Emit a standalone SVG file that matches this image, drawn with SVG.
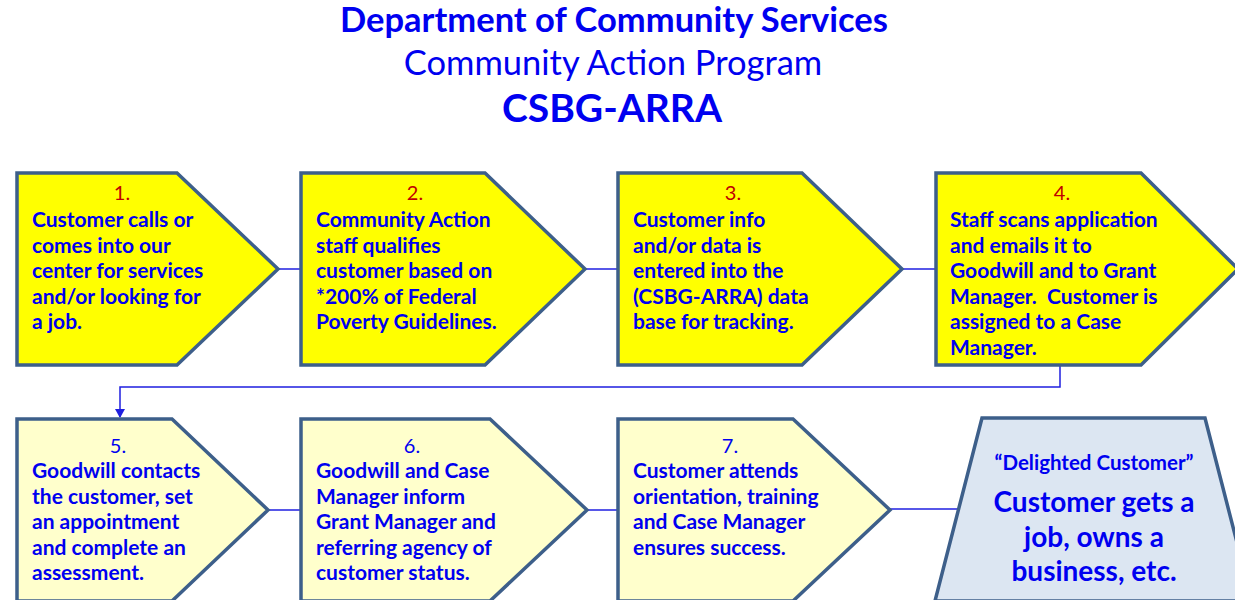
<svg xmlns="http://www.w3.org/2000/svg" width="1235" height="600" viewBox="0 0 1235 600">
<style>
.t{font-family:Lato,"Liberation Sans",sans-serif;fill:#0000F0}
.b{font-weight:bold;font-size:21px}
.n{font-size:20px;text-anchor:middle}
.r{fill:#C00000}
.s1{fill:#FFFF00;stroke:#3D5F8A;stroke-width:3.5;stroke-linejoin:miter}
.s2{fill:#FFFFCC;stroke:#3D5F8A;stroke-width:3.5}
.s3{fill:#DCE6F2;stroke:#3D5F8A;stroke-width:3.5}
.c{stroke:#1F1FE0;stroke-width:1.5;fill:none}
</style>
<defs>
<marker id="ah" markerWidth="10" markerHeight="10" refX="8" refY="5" orient="auto" markerUnits="userSpaceOnUse">
<path d="M0,0 L9,5 L0,10 Z" fill="#1F1FE0"/>
</marker>
</defs>
<rect width="1235" height="600" fill="#FFFFFF"/>
<g id="title" class="t" text-anchor="middle">
<text x="614" y="32" font-size="34.5" font-weight="bold">Department of Community Services</text>
<text x="613" y="75" font-size="34.5">Community Action Program</text>
<text x="612" y="122" font-size="39" font-weight="bold">CSBG-ARRA</text>
</g>
<g id="connectors">
<line class="c" x1="278" y1="269" x2="301" y2="269"/>
<line class="c" x1="585" y1="269" x2="618" y2="269"/>
<line class="c" x1="902" y1="269" x2="936" y2="269"/>
<polyline class="c" points="1060,365 1060,387 120,387 120,417" marker-end="url(#ah)"/>
<line class="c" x1="268" y1="510" x2="301" y2="510"/>
<line class="c" x1="587" y1="510" x2="618" y2="510"/>
<line class="c" x1="890" y1="509" x2="958" y2="509"/>
</g>
<g id="node1">
<polygon class="s1" points="17,173 177,173 278,269 177,365 17,365"/>
<text class="t n r" x="122" y="200">1.</text>
<text class="t b"><tspan x="32" y="227">Customer calls or</tspan><tspan x="32" y="252.5">comes into our</tspan><tspan x="32" y="278">center for services</tspan><tspan x="32" y="303.5">and/or looking for</tspan><tspan x="32" y="329">a job.</tspan></text>
</g>
<g id="node2">
<polygon class="s1" points="301,173 485,173 585,269 485,365 301,365"/>
<text class="t n r" x="415" y="200">2.</text>
<text class="t b"><tspan x="316" y="227">Community Action</tspan><tspan x="316" y="252.5">staff qualifies</tspan><tspan x="316" y="278">customer based on</tspan><tspan x="316" y="303.5">*200% of Federal</tspan><tspan x="316" y="329">Poverty Guidelines.</tspan></text>
</g>
<g id="node3">
<polygon class="s1" points="618,173 802,173 902,269 802,365 618,365"/>
<text class="t n r" x="733" y="200">3.</text>
<text class="t b"><tspan x="633" y="227">Customer info</tspan><tspan x="633" y="252.5">and/or data is</tspan><tspan x="633" y="278">entered into the</tspan><tspan x="633" y="303.5">(CSBG-ARRA) data</tspan><tspan x="633" y="329">base for tracking.</tspan></text>
</g>
<g id="node4">
<polygon class="s1" points="936,173 1141,173 1238,269 1141,365 936,365"/>
<text class="t n r" x="1062" y="200">4.</text>
<text class="t b"><tspan x="950" y="227">Staff scans application</tspan><tspan x="950" y="252.5">and emails it to</tspan><tspan x="950" y="278">Goodwill and to Grant</tspan><tspan x="950" y="303.5" xml:space="preserve">Manager.  Customer is</tspan><tspan x="950" y="329">assigned to a Case</tspan><tspan x="950" y="354.5">Manager.</tspan></text>
</g>
<g id="node5">
<polygon class="s2" points="17,419 172,419 268,510 172,601 17,601"/>
<text class="t n" x="118" y="453">5.</text>
<text class="t b"><tspan x="32" y="478">Goodwill contacts</tspan><tspan x="32" y="503.5">the customer, set</tspan><tspan x="32" y="529">an appointment</tspan><tspan x="32" y="554.5">and complete an</tspan><tspan x="32" y="580">assessment.</tspan></text>
</g>
<g id="node6">
<polygon class="s2" points="301,419 490,419 587,510 490,601 301,601"/>
<text class="t n" x="412" y="453">6.</text>
<text class="t b"><tspan x="316" y="478">Goodwill and Case</tspan><tspan x="316" y="503.5">Manager inform</tspan><tspan x="316" y="529">Grant Manager and</tspan><tspan x="316" y="554.5">referring agency of</tspan><tspan x="316" y="580">customer status.</tspan></text>
</g>
<g id="node7">
<polygon class="s2" points="618,419 793,419 890,510 793,601 618,601"/>
<text class="t n" x="730" y="453">7.</text>
<text class="t b"><tspan x="633" y="478">Customer attends</tspan><tspan x="633" y="503.5">orientation, training</tspan><tspan x="633" y="529">and Case Manager</tspan><tspan x="633" y="554.5">ensures success.</tspan></text>
</g>
<g id="node8">
<polygon class="s3" points="982,418 1205,418 1252,601 935,601"/>
<text class="t" x="1094" y="470" text-anchor="middle" font-size="20.5" font-weight="bold">“Delighted Customer”</text>
<text class="t" text-anchor="middle" font-size="28" font-weight="bold"><tspan x="1094" y="512">Customer gets a</tspan><tspan x="1094" y="547">job, owns a</tspan><tspan x="1094" y="581">business, etc.</tspan></text>
</g>
</svg>
